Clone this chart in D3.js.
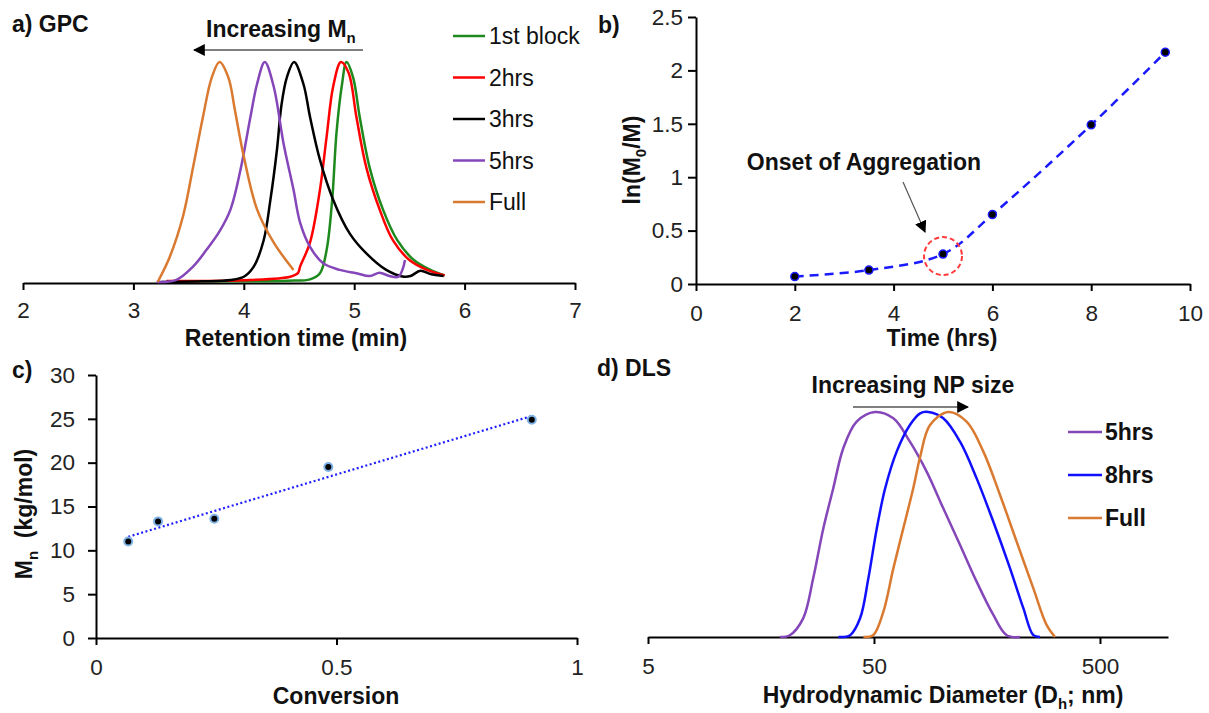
<!DOCTYPE html>
<html>
<head>
<meta charset="utf-8">
<script src="https://cdn.jsdelivr.net/npm/d3@7"></script>
<style>
body { margin: 0; background: #fff; }
text { font-family: Arial, "Liberation Sans", sans-serif; }
</style>
</head>
<body>
<svg id="fig" width="1209" height="713"></svg>
<script>
// ---- data ----
// a) GPC traces: [retention time (min), normalised signal]
var gpcBlock1 = [[3.4,0.003],[4.4,0.006],[4.6,0.012],[4.69,0.04],[4.75,0.145],[4.8,0.37],[4.84,0.68],[4.89,0.9],[4.93,1.0],[4.99,0.93],[5.05,0.75],[5.14,0.52],[5.26,0.33],[5.39,0.19],[5.54,0.1],[5.69,0.055],[5.82,0.03]];
var gpc2hrs = [[3.3,0.004],[4.06,0.009],[4.42,0.024],[4.49,0.04],[4.51,0.07],[4.6,0.18],[4.69,0.42],[4.75,0.66],[4.81,0.89],[4.88,1.0],[4.95,0.95],[5.02,0.75],[5.11,0.52],[5.23,0.33],[5.35,0.19],[5.5,0.1],[5.66,0.055],[5.82,0.03]];
var gpc3hrs = [[3.25,0],[3.63,0.003],[3.88,0.009],[4.0,0.024],[4.09,0.07],[4.18,0.19],[4.24,0.37],[4.3,0.6],[4.34,0.8],[4.39,0.93],[4.455,1.0],[4.54,0.9],[4.6,0.75],[4.69,0.555],[4.81,0.373],[4.96,0.22],[5.11,0.13],[5.29,0.055],[5.45,0.024],[5.51,0.027],[5.6,0.051],[5.69,0.036],[5.81,0.027]];
var gpc5hrs = [[3.21,0],[3.39,0.01],[3.54,0.07],[3.66,0.145],[3.78,0.23],[3.88,0.33],[3.97,0.51],[4.06,0.75],[4.12,0.9],[4.19,1.0],[4.27,0.89],[4.36,0.63],[4.45,0.42],[4.51,0.27],[4.6,0.16],[4.72,0.085],[4.87,0.055],[5.02,0.04],[5.14,0.027],[5.23,0.042],[5.32,0.027],[5.4,0.024],[5.44,0.06],[5.46,0.1]];
var gpcFull = [[3.22,0],[3.33,0.115],[3.45,0.3],[3.54,0.52],[3.63,0.75],[3.71,0.93],[3.78,1.0],[3.86,0.93],[3.92,0.78],[4.0,0.57],[4.12,0.33],[4.27,0.18],[4.45,0.055]];
var gpcNames = ["1st block", "2hrs", "3hrs", "5hrs", "Full"];
var gpcTicks = [2, 3, 4, 5, 6, 7];

// b) kinetics
var kinTime = [2, 3.5, 5, 6, 8, 9.5];
var kinLn = [0.07, 0.13, 0.28, 0.65, 1.49, 2.17];
var kinXTicks = [0, 2, 4, 6, 8, 10];
var kinYTicks = [0, 0.5, 1, 1.5, 2, 2.5];

// c) Mn vs conversion
var conv = [0.067, 0.129, 0.246, 0.483, 0.906];
var mn = [11.0, 13.3, 13.6, 19.5, 24.9];
var convTicks = [0, 0.5, 1];
var mnTicks = [0, 5, 10, 15, 20, 25, 30];

// d) DLS: [diameter (nm), normalised intensity]
var dls5hrs = [[19.2,0],[21.2,0.008],[24.3,0.083],[26.9,0.26],[29.8,0.48],[33.0,0.66],[36.6,0.84],[41.9,0.957],[50.5,1.0],[60.9,0.972],[72.1,0.868],[85.5,0.735],[101.3,0.572],[120.2,0.409],[142.3,0.246],[168.7,0.098],[193.3,0.008],[221.3,0]];
var dls8hrs = [[34.8,0],[39.2,0.008],[43.4,0.083],[47.2,0.26],[51.4,0.48],[56.0,0.66],[63.0,0.824],[72.1,0.942],[80.0,0.994],[87.0,1.0],[101.3,0.972],[120.2,0.868],[142.3,0.705],[168.7,0.512],[200,0.305],[229,0.128],[253.6,0.008],[271.6,0]];
var dlsFull = [[44.9,0],[49.6,0.008],[55.0,0.112],[60.9,0.305],[67.4,0.483],[74.6,0.661],[80.0,0.8],[88.5,0.942],[106.6,1.0],[128.5,0.957],[152.4,0.824],[180.6,0.631],[213.9,0.424],[253.6,0.216],[290.5,0.053],[316.2,0]];
var dlsNames = ["5hrs", "8hrs", "Full"];
var dlsTicks = [5, 50, 500];

var svg = d3.select('#fig');
var font = 'Arial, "Liberation Sans", sans-serif';
var tickFont = 22.5;
var titleFont = 23;

// arrow heads
var defs = svg.append('defs');
defs.append('marker')
    .attr('id', 'head')
    .attr('viewBox', '0 0 10 10')
    .attr('refX', 9).attr('refY', 5)
    .attr('markerWidth', 12).attr('markerHeight', 12)
    .attr('markerUnits', 'userSpaceOnUse')
    .attr('orient', 'auto')
    .append('path').attr('d', 'M0,0L10,5L0,10z').attr('fill', '#000');

function styleAxis(g) {
    g.attr('font-family', font).attr('font-size', tickFont);
    g.select('.domain').attr('stroke', '#000').attr('stroke-width', 2);
    g.selectAll('.tick line').attr('stroke', '#000').attr('stroke-width', 2);
    g.selectAll('.tick text').attr('fill', '#222');
}

function label(x, y, txt, opts) {
    opts = opts || {};
    return svg.append('text')
        .attr('x', x).attr('y', y)
        .attr('font-size', opts.size || titleFont)
        .attr('font-weight', opts.bold === false ? 'normal' : 'bold')
        .attr('text-anchor', opts.anchor || 'start')
        .attr('fill', '#111')
        .text(txt);
}

// text with one subscript piece: pre + sub + post
function subLabel(x, y, pre, sub, post, opts) {
    var t = label(x, y, '', opts);
    t.append('tspan').text(pre);
    t.append('tspan').attr('dy', 6).attr('font-size', 15).text(sub);
    t.append('tspan').attr('dy', -6).text(post);
    return t;
}

var smooth = d3.curveCatmullRom.alpha(0.5);

// ================= a) GPC =================
(function() {
    var x = d3.scaleLinear().domain([2, 7]).range([23, 575]);
    var y = d3.scaleLinear().domain([0, 1]).range([282, 62]);
    var g = svg.append('g');
    var ax = g.append('g').attr('transform', 'translate(0,283)')
        .call(d3.axisBottom(x).tickValues(gpcTicks).tickFormat(d3.format('')).tickSize(7).tickSizeOuter(0).tickPadding(12));
    styleAxis(ax);

    var series = [gpcBlock1, gpc2hrs, gpc3hrs, gpc5hrs, gpcFull];
    var colors = ['#1e8a1e', '#ff0000', '#000000', '#8446b8', '#d97a30'];
    var line = d3.line().x(function(d) { return x(d[0]); }).y(function(d) { return y(d[1]); }).curve(smooth);
    g.selectAll('.gpc').data(series).enter().append('path')
        .attr('class', 'gpc')
        .attr('d', line)
        .attr('fill', 'none')
        .attr('stroke', function(d, i) { return colors[i]; })
        .attr('stroke-width', 2.5);

    // legend
    var leg = g.selectAll('.leg').data(gpcNames).enter().append('g')
        .attr('transform', function(d, i) { return 'translate(453,' + (36 + i * 41.5) + ')'; });
    leg.append('line').attr('x1', 0).attr('x2', 32)
        .attr('stroke', function(d, i) { return colors[i]; }).attr('stroke-width', 2.5);
    leg.append('text').attr('x', 36).attr('dy', '0.35em')
        .attr('font-size', 23).attr('fill', '#111').text(function(d) { return d; });

    label(12, 32, 'a) GPC');
    subLabel(206, 37, 'Increasing M', 'n', '');
    g.append('line').attr('x1', 363).attr('y1', 50).attr('x2', 194).attr('y2', 50)
        .attr('stroke', '#555').attr('stroke-width', 1.5).attr('marker-end', 'url(#head)');
    label(296, 346, 'Retention time (min)', { anchor: 'middle' });
})();

// ================= b) ln(M0/M) vs time =================
(function() {
    var x = d3.scaleLinear().domain([0, 10]).range([696, 1190]);
    var y = d3.scaleLinear().domain([0, 2.5]).range([284, 17]);
    var g = svg.append('g');
    var ax = g.append('g').attr('transform', 'translate(0,284)')
        .call(d3.axisBottom(x).tickValues(kinXTicks).tickSize(7).tickSizeOuter(0).tickPadding(14));
    styleAxis(ax);
    var ay = g.append('g').attr('transform', 'translate(696,0)')
        .call(d3.axisLeft(y).tickValues(kinYTicks).tickFormat(d3.format('')).tickSize(8).tickSizeOuter(0).tickPadding(5));
    styleAxis(ay);

    var pts = kinTime.map(function(t, i) { return [t, kinLn[i]]; });
    var line = d3.line().x(function(d) { return x(d[0]); }).y(function(d) { return y(d[1]); }).curve(smooth);
    g.append('path').datum(pts).attr('d', line)
        .attr('fill', 'none').attr('stroke', '#1a1aff').attr('stroke-width', 2.5)
        .attr('stroke-dasharray', '9,6');
    g.selectAll('.pt').data(pts).enter().append('circle')
        .attr('cx', function(d) { return x(d[0]); })
        .attr('cy', function(d) { return y(d[1]); })
        .attr('r', 4).attr('fill', '#000').attr('stroke', '#1a1aff').attr('stroke-width', 1.5);

    // onset of aggregation marker
    g.append('circle').attr('cx', x(kinTime[2])).attr('cy', y(kinLn[2]) + 2).attr('r', 19)
        .attr('fill', 'none').attr('stroke', '#ff3b3b').attr('stroke-width', 2).attr('stroke-dasharray', '5,3');
    g.append('line').attr('x1', 903).attr('y1', 182).attr('x2', 925).attr('y2', 232)
        .attr('stroke', '#555').attr('stroke-width', 1.2).attr('marker-end', 'url(#head)');
    label(864, 170, 'Onset of Aggregation', { anchor: 'middle' });

    label(598, 33, 'b)');
    var yl = subLabel(0, 0, 'ln(M', '0', '/M)', { anchor: 'middle' });
    yl.attr('transform', 'translate(640,160) rotate(-90)');
    label(942, 346, 'Time (hrs)', { anchor: 'middle' });
})();

// ================= c) Mn vs conversion =================
(function() {
    var x = d3.scaleLinear().domain([0, 1]).range([96, 577]);
    var y = d3.scaleLinear().domain([0, 30]).range([638, 375]);
    var g = svg.append('g');
    var ax = g.append('g').attr('transform', 'translate(0,638)')
        .call(d3.axisBottom(x).tickValues(convTicks).tickFormat(d3.format('')).tickSize(7).tickSizeOuter(0).tickPadding(14));
    styleAxis(ax);
    var ay = g.append('g').attr('transform', 'translate(96,0)')
        .call(d3.axisLeft(y).tickValues(mnTicks).tickSize(8).tickSizeOuter(0).tickPadding(13));
    styleAxis(ay);

    // linear trendline (least squares)
    var mx = d3.mean(conv), my = d3.mean(mn);
    var sxy = d3.sum(conv, function(c, i) { return (c - mx) * (mn[i] - my); });
    var sxx = d3.sum(conv, function(c) { return (c - mx) * (c - mx); });
    var slope = sxy / sxx, icpt = my - slope * mx;
    var ext = d3.extent(conv);
    g.append('line')
        .attr('x1', x(ext[0])).attr('y1', y(icpt + slope * ext[0]))
        .attr('x2', x(ext[1])).attr('y2', y(icpt + slope * ext[1]))
        .attr('stroke', '#2020ff').attr('stroke-width', 2.2).attr('stroke-dasharray', '2,2.5');

    g.selectAll('.pt').data(conv).enter().append('circle')
        .attr('cx', function(d) { return x(d); })
        .attr('cy', function(d, i) { return y(mn[i]); })
        .attr('r', 4).attr('fill', '#000').attr('stroke', '#7fb2e5').attr('stroke-width', 2);

    label(12, 378, 'c)');
    var yl = subLabel(0, 0, 'M', 'n', '  (kg/mol)', { anchor: 'middle' });
    yl.attr('xml:space', 'preserve').attr('transform', 'translate(32,514) rotate(-90)');
    label(336, 704, 'Conversion', { anchor: 'middle' });
})();

// ================= d) DLS =================
(function() {
    var x = d3.scaleLog().domain([5, 1000]).range([648, 1168]);
    var y = d3.scaleLinear().domain([0, 1]).range([637, 412]);
    var g = svg.append('g');
    var ax = g.append('g').attr('transform', 'translate(0,637)')
        .call(d3.axisBottom(x).tickValues(dlsTicks).tickFormat(d3.format('')).tickSize(7).tickSizeOuter(0).tickPadding(14));
    styleAxis(ax);

    var series = [dls5hrs, dls8hrs, dlsFull];
    var colors = ['#8446b8', '#1010ff', '#d97a30'];
    var line = d3.line().x(function(d) { return x(d[0]); }).y(function(d) { return y(d[1]); }).curve(smooth);
    g.selectAll('.dls').data(series).enter().append('path')
        .attr('d', line)
        .attr('fill', 'none')
        .attr('stroke', function(d, i) { return colors[i]; })
        .attr('stroke-width', 2.5);

    var leg = g.selectAll('.leg').data(dlsNames).enter().append('g')
        .attr('transform', function(d, i) { return 'translate(1068,' + (432 + i * 43) + ')'; });
    leg.append('line').attr('x1', 0).attr('x2', 34)
        .attr('stroke', function(d, i) { return colors[i]; }).attr('stroke-width', 2.5);
    leg.append('text').attr('x', 37).attr('dy', '0.35em')
        .attr('font-size', titleFont).attr('font-weight', 'bold').attr('fill', '#111').text(function(d) { return d; });

    label(597, 376, 'd) DLS');
    label(913, 393, 'Increasing NP size', { anchor: 'middle' });
    g.append('line').attr('x1', 853).attr('y1', 407).attr('x2', 968).attr('y2', 407)
        .attr('stroke', '#555').attr('stroke-width', 1.5).attr('marker-end', 'url(#head)');
    subLabel(943, 703, 'Hydrodynamic Diameter (D', 'h', '; nm)', { anchor: 'middle' });
})();
</script>
</body>
</html>
